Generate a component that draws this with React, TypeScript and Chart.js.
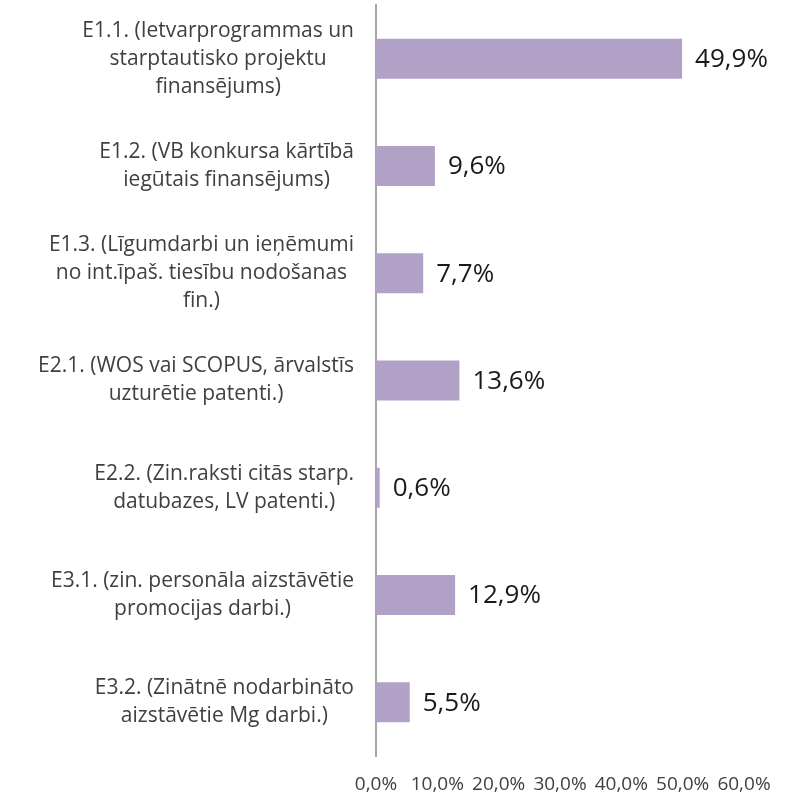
import React, { useEffect, useRef } from "react";
import { Chart, registerables } from "chart.js";

Chart.register(...registerables);

const categories: string[][] = [
  ["E1.1. (Ietvarprogrammas un", "starptautisko projektu", "finansējums)"],
  ["E1.2. (VB konkursa kārtībā", "iegūtais finansējums)"],
  ["E1.3. (Līgumdarbi un ieņēmumi", "no int.īpaš. tiesību nodošanas", "fin.)"],
  ["E2.1. (WOS vai SCOPUS, ārvalstīs", "uzturētie patenti.)"],
  ["E2.2. (Zin.raksti citās starp.", "datubazes, LV patenti.)"],
  ["E3.1. (zin. personāla aizstāvētie", "promocijas darbi.)"],
  ["E3.2. (Zinātnē nodarbināto", "aizstāvētie Mg darbi.)"],
];

const values: number[] = [49.9, 9.6, 7.7, 13.6, 0.6, 12.9, 5.5];

const xTicks: number[] = [0, 10, 20, 30, 40, 50, 60];

const FONT = "'Open Sans', Lato, sans-serif";

const fmt = (v: number) => v.toFixed(1).replace(".", ",") + "%";

const labelPlugin = {
  id: "customLabels",
  afterDatasetsDraw(chart: any) {
    const ctx = chart.ctx;
    const meta = chart.getDatasetMeta(0);
    ctx.save();
    // value labels
    ctx.font = `26px ${FONT}`;
    ctx.fillStyle = "#1a1a1a";
    ctx.textBaseline = "middle";
    ctx.textAlign = "left";
    meta.data.forEach((bar: any, i: number) => {
      ctx.fillText(fmt(values[i]), bar.x + 13, bar.y + 1);
    });
    // category labels
    const yScale = chart.scales.y;
    const right = yScale.right - 22;
    ctx.font = `21px ${FONT}`;
    ctx.fillStyle = "#404040";
    ctx.textAlign = "center";
    const lh = 28;
    categories.forEach((lines, i) => {
      const cy = yScale.getPixelForValue(i);
      const maxW = Math.max(...lines.map((l) => ctx.measureText(l).width));
      const cx = right - maxW / 2;
      const startY = cy - ((lines.length - 1) * lh) / 2;
      lines.forEach((l, j) => {
        ctx.fillText(l, cx, startY + j * lh);
      });
    });
    ctx.restore();
  },
};

export default function App() {
  const ref = useRef<HTMLCanvasElement | null>(null);
  useEffect(() => {
    if (!ref.current) return;
    const chart = new Chart(ref.current, {
      type: "bar",
      data: {
        labels: categories.map((c) => c.join(" ")),
        datasets: [
          {
            data: values,
            backgroundColor: "#b2a1c7",
            borderWidth: 0,
            barPercentage: 0.373,
            categoryPercentage: 1,
          },
        ],
      },
      options: {
        indexAxis: "y",
        animation: false,
        responsive: false,
        maintainAspectRatio: false,
        layout: { padding: { top: 5, right: 50, left: 0, bottom: 0 } },
        plugins: {
          legend: { display: false },
          tooltip: { enabled: false },
        },
        scales: {
          x: {
            min: 0,
            max: 60,
            afterBuildTicks: (scale: any) => {
              scale.ticks = xTicks.map((v) => ({ value: v }));
            },
            afterFit: (scale: any) => {
              scale.height = 42;
            },
            grid: { display: false, drawTicks: false },
            border: { display: false },
            ticks: {
              autoSkip: false,
              maxRotation: 0,
              padding: 17,
              color: "#404040",
              font: { family: FONT, size: 19 },
              callback: (v: any) => fmt(Number(v)),
            },
          },
          y: {
            afterFit: (scale: any) => {
              scale.width = 376;
            },
            grid: { display: false, drawTicks: false },
            border: { display: true, color: "#a6a6a6", width: 2 },
            ticks: { display: false },
          },
        },
      },
      plugins: [labelPlugin],
    } as any);
    return () => chart.destroy();
  }, []);
  return (
    <div style={{ position: "fixed", left: 0, top: 0, width: 794, height: 798, background: "#fff" }}>
      <canvas ref={ref} width={794} height={798} style={{ width: 794, height: 798 }} />
    </div>
  );
}
